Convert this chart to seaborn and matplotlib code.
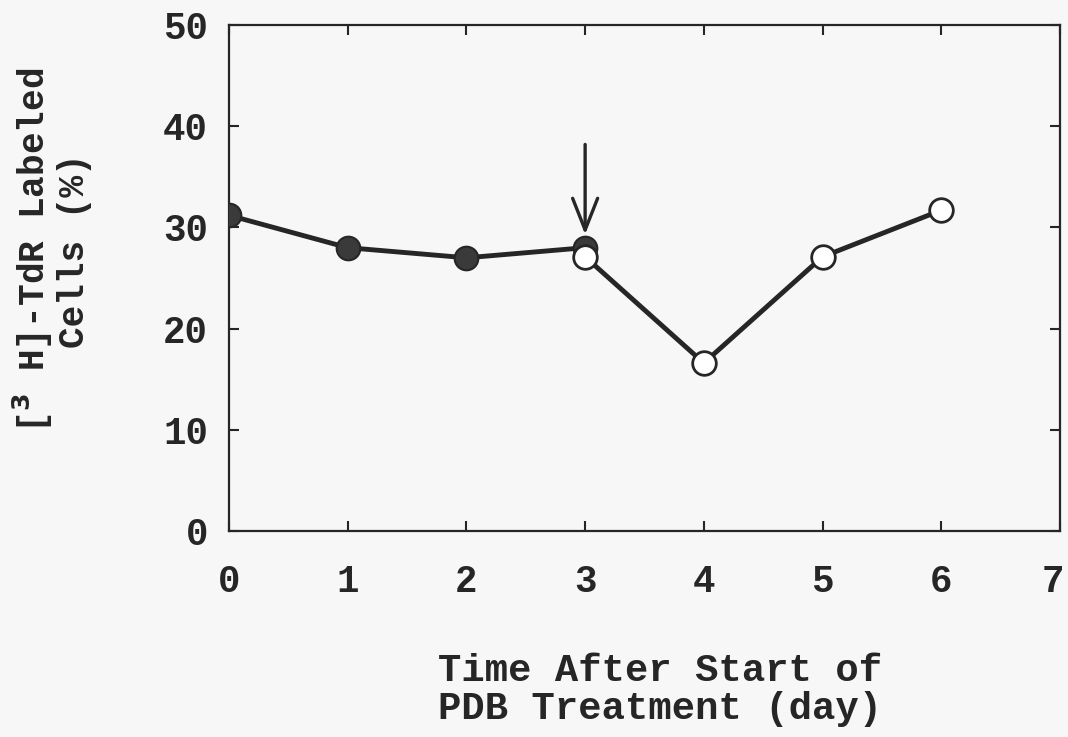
import matplotlib
matplotlib.use('Agg')
import matplotlib.pyplot as plt
import matplotlib.transforms as mtransforms
import seaborn as sns
import pandas as pd

# data
days_before = [0, 1, 2, 3]
labeled_before = [31.2, 28.0, 27.0, 28.0]
days_after = [3, 4, 5, 6]
labeled_after = [27.1, 16.6, 27.1, 31.7]
arrow_day = 3
arrow_from, arrow_to = 38.2, 29.3

x_ticks = [0, 1, 2, 3, 4, 5, 6, 7]
y_ticks = [0, 10, 20, 30, 40, 50]

sns.set_theme(style='ticks')
plt.rcParams['font.family'] = ['Liberation Mono', 'DejaVu Sans']
plt.rcParams['font.weight'] = 'bold'

ink = '#262626'
bg = '#f7f7f7'

fig = plt.figure(figsize=(10.68, 7.37), dpi=100, facecolor=bg)
ax = fig.add_axes([0.2144, 0.2795, 0.7781, 0.6865])
ax.set_facecolor(bg)

df_before = pd.DataFrame({'day': days_before, 'pct': labeled_before})
df_after = pd.DataFrame({'day': days_after, 'pct': labeled_after})

sns.lineplot(data=df_before, x='day', y='pct', ax=ax, color=ink, lw=3.5,
             marker='o', markersize=17, markerfacecolor='#3a3a3a',
             markeredgecolor=ink, markeredgewidth=1.5, zorder=3)
sns.lineplot(data=df_after, x='day', y='pct', ax=ax, color=ink, lw=3.5,
             marker='o', markersize=17, markerfacecolor='white',
             markeredgecolor=ink, markeredgewidth=2, zorder=4)

ax.annotate('', xy=(arrow_day, arrow_to), xytext=(arrow_day, arrow_from),
            arrowprops=dict(arrowstyle='->,head_length=1.9,head_width=0.75',
                            color=ink, lw=2.4, shrinkA=0, shrinkB=0))

ax.set_xlim(0, 7)
ax.set_ylim(0, 50)
ax.set_xticks(x_ticks)
ax.set_yticks(y_ticks)
ax.tick_params(direction='in', length=7, width=1.5, colors=ink,
               top=True, right=True, labelsize=27)
ax.tick_params(axis='x', pad=24)
ax.tick_params(axis='y', pad=15)
for lab in ax.get_xticklabels() + ax.get_yticklabels():
    lab.set_fontweight('bold')
# last x label sits right at the figure edge, nudge it in a bit
last = ax.get_xticklabels()[-1]
last.set_transform(last.get_transform() +
                   mtransforms.ScaledTranslation(-0.07, 0, fig.dpi_scale_trans))
for side in ax.spines.values():
    side.set_linewidth(1.6)
    side.set_color(ink)

ax.set_xlabel('')
ax.set_ylabel('')

fig.text(0.618, 0.064, 'Time After Start of\nPDB Treatment (day)',
         ha='center', va='center', fontsize=28, fontweight='bold',
         color=ink, linespacing=1.05)
fig.text(0.048, 0.66, '[$^3$ H]-TdR Labeled\nCells (%)', rotation=90,
         ha='center', va='center', fontsize=26, fontweight='bold',
         color=ink, linespacing=1.1)

plt.savefig('out.png', dpi=100, facecolor=bg)
